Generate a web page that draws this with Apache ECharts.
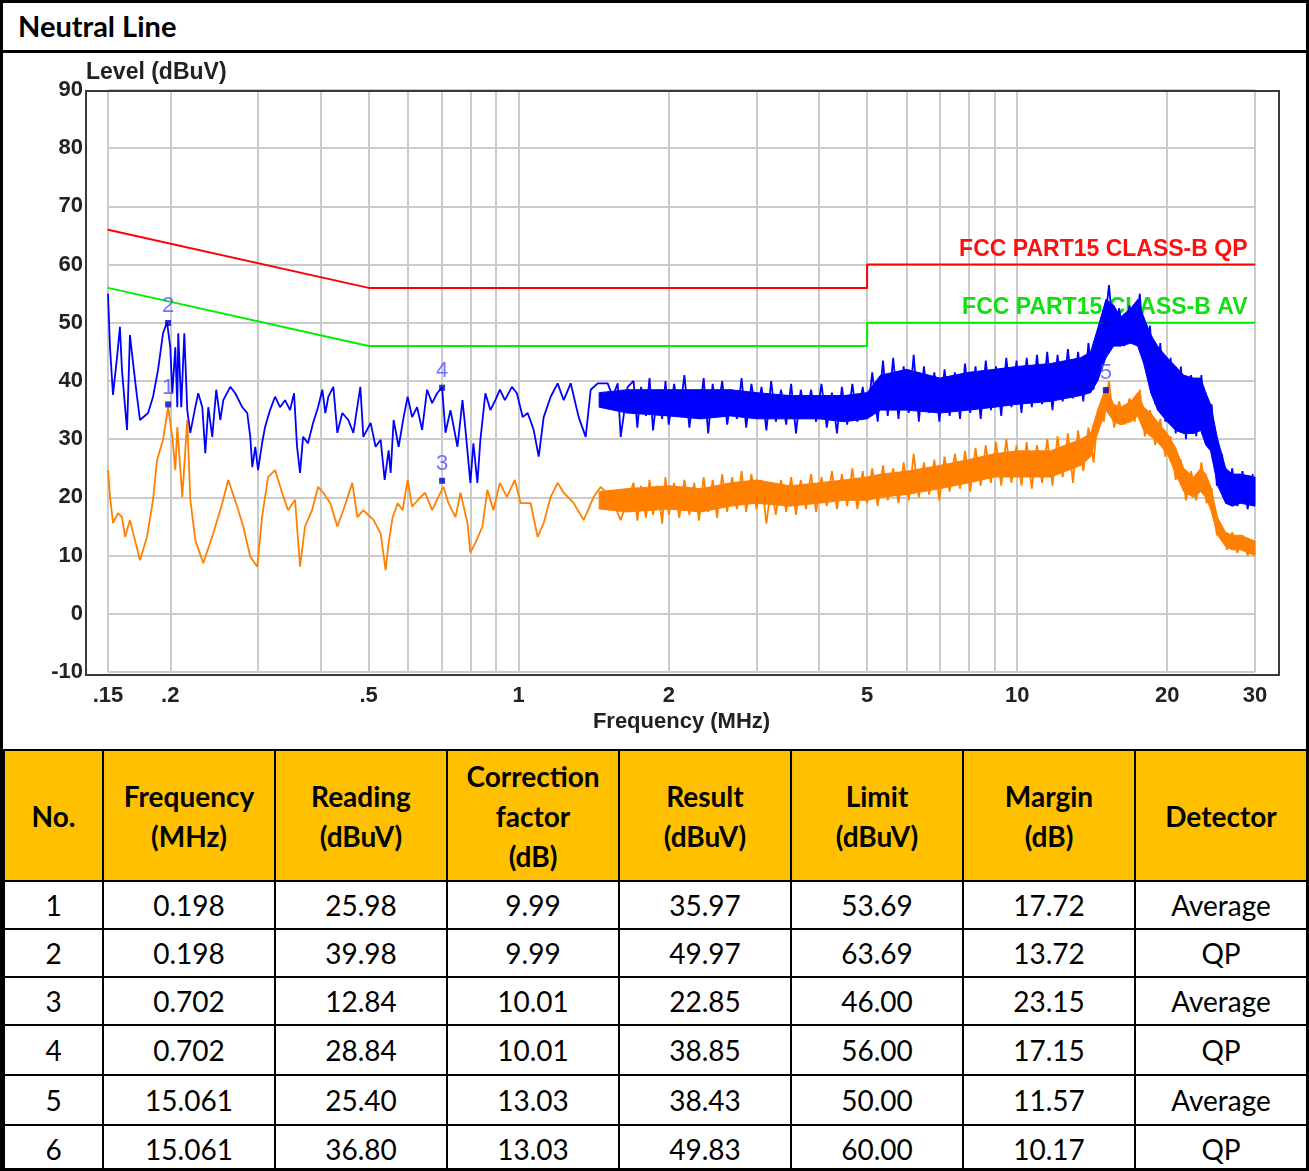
<!DOCTYPE html>
<html>
<head>
<meta charset="utf-8">
<title>Neutral Line</title>
<script src="https://cdn.jsdelivr.net/npm/echarts@6/dist/echarts.min.js"></script>
<style>
  html, body { margin: 0; padding: 0; background: #fff; }
  #page { position: relative; width: 1309px; height: 1171px; overflow: hidden; background: #fff; }
  #chart { position: absolute; left: 0; top: 0; width: 1309px; height: 1171px; }
  #title { position: absolute; left: 0; top: 0; width: 1309px; height: 53px; box-sizing: border-box; border-bottom: 3px solid #000; padding-left: 18px; font: bold 29px Lato, sans-serif; line-height: 52px; color: #000; background: #fff; }
  #result { position: absolute; left: 3px; top: 749px; width: 1303px; border-collapse: collapse; table-layout: fixed; font-family: Lato, sans-serif; color: #000; background: #fff; }
  #result th, #result td { border: 2px solid #000; text-align: center; padding: 0; }
  #result th { background: #ffc000; font-weight: bold; font-size: 28px; line-height: 40px; }
  #result td { font-size: 28px; }
  #frame { position: absolute; left: 0; top: 0; width: 1309px; height: 1171px; box-sizing: border-box; border: 3px solid #000; pointer-events: none; }
</style>
</head>
<body>
<div id="page">
  <div id="chart"></div>
  <div id="title">Neutral Line</div>
  <table id="result">
    <colgroup>
      <col style="width:99px"><col style="width:172px"><col style="width:172px"><col style="width:172px">
      <col style="width:172px"><col style="width:172px"><col style="width:172px"><col style="width:172px">
    </colgroup>
    <thead>
      <tr style="height:131px">
        <th>No.</th>
        <th>Frequency<br>(MHz)</th>
        <th>Reading<br>(dBuV)</th>
        <th>Correction<br>factor<br>(dB)</th>
        <th>Result<br>(dBuV)</th>
        <th>Limit<br>(dBuV)</th>
        <th>Margin<br>(dB)</th>
        <th>Detector</th>
      </tr>
    </thead>
    <tbody id="rows"></tbody>
  </table>
  <div id="frame"></div>
</div>
<script>
// ---- limit lines (FCC Part 15 class B) ----
const limitFreq = [0.15, 0.5, 5, 5, 30];
const qpLimitVal = [66, 56, 56, 60, 60];
const avLimitVal = [56, 46, 46, 50, 50];

// ---- measured results table ----
const noList = [1, 2, 3, 4, 5, 6];
const freqList = [0.198, 0.198, 0.702, 0.702, 15.061, 15.061];
const readingList = [25.98, 39.98, 12.84, 28.84, 25.40, 36.80];
const corrList = [9.99, 9.99, 10.01, 10.01, 13.03, 13.03];
const resultList = [35.97, 49.97, 22.85, 38.85, 38.43, 49.83];
const limitList = [53.69, 63.69, 46.00, 56.00, 50.00, 60.00];
const marginList = [17.72, 13.72, 23.15, 17.15, 11.57, 10.17];
const detectorList = ['Average', 'QP', 'Average', 'QP', 'Average', 'QP'];

// ---- axis ticks ----
const gridFreq = [0.15, 0.2, 0.3, 0.4, 0.5, 0.6, 0.7, 0.8, 0.9, 1, 2, 3, 4, 5, 6, 7, 8, 9, 10, 20, 30];
const labelFreq = [0.15, 0.2, 0.5, 1, 2, 5, 10, 20, 30];

// ---- QP trace (blue), low band, read point by point ----
const blueLeftFreq = [0.15,0.1514,0.1535,0.1564,0.1585,0.160,0.1623,0.1638,0.166,0.1684,
  0.1715,0.1739,0.1805,0.1847,0.189,0.1934,0.197,0.2,0.2019,0.2047,
  0.2066,0.2075,0.2104,0.2134,0.2163,0.2194,0.2245,0.2276,0.2319,0.2351,
  0.2384,0.2428,0.2473,0.252,0.2555,0.2639,0.27,0.2789,0.2854,0.2894,
  0.2921,0.2962,0.3,0.3056,0.3099,0.3171,0.3245,0.3321,0.3398,0.3478,
  0.3543,0.3592,0.3642,0.3693,0.3779,0.3868,0.3958,0.4037,0.4094,0.4151,
  0.4248,0.4327,0.4428,0.4552,0.4659,0.4812,0.4879,0.5046,0.5164,0.5285,
  0.5384,0.5484,0.5535,0.5612,0.5743,0.5877,0.5987,0.6112,0.6255,0.6401,
  0.655,0.6704,0.686,0.702,0.713,0.7297,0.7537,0.7713,0.7821,0.8,
  0.8112,0.8263,0.8378,0.8574,0.8774,0.8979,0.9168,0.9382,0.969,0.9917,
  1.0186,1.0425,1.0717,1.0968,1.1224,1.1593,1.1973,1.2311,1.2715,1.3193,
  1.3627,1.3946,1.4404,1.5085,1.5437,1.5798,1.6018,1.6545];
const blueLeftVal = [55,45.8,37.6,44.1,49.3,41.9,35.5,31.6,47.9,43.1,
  37.3,33.3,34.5,37.3,41.9,48.2,50.1,45.8,37.9,45.8,
  35.5,48.2,35.5,48.2,35.0,31.1,35.5,37.9,35.5,27.6,
  35.5,30.4,38.5,33.3,36.7,39.0,37.9,35.5,34.5,30.4,
  25.2,28.7,24.7,29.3,32.1,35.0,37.3,35.5,36.7,35.0,
  37.9,28.7,24.2,30.4,29.3,32.8,35.5,38.5,34.5,37.3,
  39.0,31.1,34.5,33.3,31.1,39.0,30.4,32.8,28.7,29.9,
  23.0,28.1,24.2,33.3,28.7,33.8,37.3,33.8,35.5,31.6,
  38.5,36.2,37.9,38.9,31.1,35.0,28.7,36.7,31.6,22.5,
  29.3,22.5,29.9,37.9,35.0,36.7,38.5,36.7,39.0,37.9,
  33.8,34.5,31.6,27.0,33.8,37.3,39.6,36.7,39.6,33.8,
  30.4,38.5,39.6,39.6,37.3,39.6,30.4,39.0];

// ---- AV trace (orange), low band ----
const orangeLeftFreq = [0.15,0.1514,0.1535,0.1571,0.160,0.1623,0.166,0.1739,0.1796,0.1847,
  0.1881,0.1934,0.198,0.2019,0.2047,0.2066,0.2114,0.2163,0.2194,0.2245,
  0.2329,0.2439,0.2543,0.2614,0.2725,0.2802,0.2894,0.2989,0.3056,0.3142,
  0.3245,0.3352,0.3446,0.3559,0.3642,0.3727,0.385,0.3958,0.4056,0.4189,
  0.4327,0.4448,0.4637,0.4746,0.4879,0.5117,0.5285,0.5408,0.5484,0.5586,
  0.5717,0.585,0.5987,0.6112,0.6284,0.649,0.6704,0.69,0.7065,0.723,
  0.7468,0.7642,0.7893,0.8,0.8187,0.8456,0.8654,0.8896,0.9168,0.9469,
  0.9825,1.009,1.057,1.0917,1.1224,1.1593,1.1973,1.2311,1.2893,1.3502,
  1.414,1.4605,1.5296,1.6018,1.6545];
const orangeLeftVal = [24.7,20.1,15.6,17.3,16.6,13.2,16.1,9.2,13.2,19.6,
  26.4,29.9,35.5,30.4,24.7,32.1,20.1,33.3,19.6,12.7,
  8.7,13.8,19.0,23.0,18.4,15.0,9.8,8.1,16.6,23.5,
  24.7,20.8,17.8,19.6,8.1,15.0,17.8,21.8,20.8,19.0,
  15.0,17.8,22.5,16.6,17.8,16.1,13.8,7.5,12.2,16.6,
  19.0,17.8,23.0,18.4,19.6,20.8,17.8,20.1,21.8,19.0,
  16.6,20.8,15.6,10.5,12.2,15.0,21.3,17.8,22.5,20.1,
  23.0,19.0,19.0,13.2,15.6,20.1,22.5,20.8,19.0,16.1,
  20.1,21.8,20.1,16.1,19.6];

// ---- high band: spike peaks / dips of both traces ----
const denseFreq = [1.7,1.73,1.76,1.8,1.83,1.86,1.9,1.94,1.97,2.0,
  2.05,2.1,2.15,2.2,2.25,2.3,2.35,2.4,2.45,2.5,
  2.56,2.62,2.68,2.74,2.8,2.86,2.93,3.0,3.07,3.14,
  3.21,3.28,3.36,3.44,3.52,3.6,3.68,3.77,3.86,3.95,
  4.05,4.15,4.25,4.35,4.45,4.56,4.67,4.78,4.9,5.0,
  5.12,5.25,5.38,5.5,5.64,5.78,5.92,6.06,6.2,6.35,
  6.5,6.66,6.82,6.98,7.15,7.32,7.5,7.68,7.86,8.05,
  8.25,8.45,8.65,8.86,9.07,9.29,9.51,9.74,9.97,10.2,
  10.45,10.7,10.96,11.22,11.49,11.77,12.05,12.34,12.64,12.94,
  13.25,13.57,13.9,14.23,14.57,14.92,15.28,15.65,16.02,16.41,
  16.8,17.2,17.62,18.04,18.47,18.92,19.37,19.83,20.31,20.8,
  21.3,21.81,22.33,22.87,23.42,23.98,24.56,25.15,25.75,26.37,
  27.0,27.65,28.32,29.0,29.7];
const blueDenseVal = [40,32,39,34,40.5,31.5,38.5,33.5,40,32.5,
  39.5,34,41,32,38.5,33.5,40.5,31,39.5,34,
  40,32.5,38.5,33.5,40.5,32,39.5,34,39,31.5,
  40,33,38.5,32.5,39.5,31,38.5,33.5,38.5,33,
  39.5,32,38,31,39,32.5,39.5,33,39,33.5,
  41.5,33,43.5,34,44,33.5,42.5,34.5,44.5,33,
  42.5,34.5,41.5,33,42,34,41.5,33.5,43,34.5,
  42.5,33.5,43.5,35,42.5,34,44,35.5,43.5,34.5,
  44,35.5,44.5,36,45,35,44.5,36.5,45.5,37,
  45,36.5,46.5,38.5,49,48,56.5,46.5,52.5,46,
  53,47,55,43,49.5,36,46.5,33,44,31,
  42.5,30,41,30.5,41,29,36,22,27.5,19,
  25,18.5,24.5,18,24];
const orangeDenseVal = [22.5,16,22,16.5,23,17,22,15.5,23.5,17,
  22.5,16.5,23,17,22.5,16,23.5,17.5,23,16.5,
  24,17.5,23.5,18,24.5,17.5,24,18,23,15.5,
  22,17,23,17.5,23.5,17,23,18,24,17.5,
  23.5,18.5,24.5,18,24,18.5,25,18,24.5,19,
  25,18.5,25.5,19.5,25,19,26,19.5,27.5,20,
  26,20.5,26.5,19.5,27,21,27.5,21.5,28,21,
  28.5,22,29,22.5,29.5,22,30,22.5,29,22,
  29.5,21.5,29,22.5,30,22,30.5,23.5,31,22.5,
  31.5,24.5,32,26,35.5,33,40,32,36.5,32.5,
  37,33,38.5,30.5,35,29,33.5,27,30.5,23,
  26.5,19.5,24.5,19.5,26,19,21.5,13.5,15,11,
  14,10.5,13.5,10,12.5];

// ---- high band: solid core of the noise band (low / high edge) ----
const bandFreq = [1.45,1.65,2.0,2.32,2.66,3.0,3.5,4.0,
  4.5,5.0,5.32,6.0,7.0,8.0,9.0,10,11.67,13.41,
  14.04,14.5,15.07,15.62,16.13,16.9,17.45,17.94,18.53,19.13,
  20,20.8,21.58,22.6,23.35,23.9,24.43,25.25,26.2,27,
  28.06,30];
const blueBandLo = [35.5,34.5,34,33.5,34,33.5,33.5,33.5,
  33,33.5,35,35,34.5,35,35.5,36,36.5,37.5,
  38,40,44,46,46,46.5,46,43,38,35,
  33,31.5,31,31,31.5,29,28,22,19,18.5,
  19,18.5];
const blueBandHi = [38,38.5,38.5,38.5,38.5,38,37.5,37.5,
  37.5,38,41,42,40.5,41.5,42,42.5,43,44,
  45,49,54,53,51,52.5,54,51,48,46,
  44,42.5,41,40.5,40.5,38,36,30,25,24,
  24,23.5];
const orangeBandLo = [18,17.5,18,17.5,18.5,19,18.5,19,
  19.5,19.5,20,20.5,21.5,22.5,23.5,23.5,23.5,25.5,
  27,31,35,33,32.5,33,34,31.5,30.5,29.5,
  27.5,24,21,20,21,20,18,13.5,11.5,11,
  11,10];
const orangeBandHi = [21,21.5,22,21.5,22.5,23,22,22.5,
  23,23.5,24,24.5,25.5,26.5,27.5,28,28,30,
  31,35,39,36,35.5,36.5,38,35.5,34.5,33,
  31,28.5,25,23.5,25,24,22,16.5,14,13.5,
  13.5,12.5];

// ---- table ----
const tbody = document.getElementById('rows');
const rowHeights = [48, 48, 48, 50, 50, 48];
noList.forEach((no, i) => {
  const tr = document.createElement('tr');
  tr.style.height = rowHeights[i] + 'px';
  [String(no), freqList[i].toFixed(3), readingList[i].toFixed(2), corrList[i].toFixed(2),
   resultList[i].toFixed(2), limitList[i].toFixed(2), marginList[i].toFixed(2), detectorList[i]]
    .forEach(txt => {
      const td = document.createElement('td');
      td.textContent = txt;
      tr.appendChild(td);
    });
  tbody.appendChild(tr);
});

// ---- chart ----
const axisFont = '"Liberation Sans", Arial, sans-serif';
const textColor = '#222';
const gridColor = '#cbcbcb';

function pairs(fs, vs) { return fs.map((f, i) => [f, vs[i]]); }
function bandRows(lo, hi) { return bandFreq.map((f, i) => [f, lo[i], hi[i]]); }
function bandRender(color) {
  return function (params, api) {
    const i = params.dataIndexInside;
    if (i >= bandFreq.length - 1) return null;
    const a = api.coord([api.value(0, i), api.value(2, i)]);
    const b = api.coord([api.value(0, i + 1), api.value(2, i + 1)]);
    const c = api.coord([api.value(0, i + 1), api.value(1, i + 1)]);
    const d = api.coord([api.value(0, i), api.value(1, i)]);
    return {
      type: 'polygon',
      shape: { points: [a, b, c, d] },
      style: { fill: color, stroke: color, lineWidth: 1 }
    };
  };
}
function limitData(vals, text, color) {
  const data = pairs(limitFreq, vals);
  const last = data.length - 1;
  data[last] = {
    value: data[last],
    label: {
      show: true, formatter: text, position: 'left', distance: 7, offset: [0, -15],
      color: color, fontSize: 23, fontWeight: 'bold', fontFamily: axisFont
    }
  };
  return data;
}
function fmtFreq(v) {
  const n = +(+v).toPrecision(3);
  return n < 1 ? String(n).slice(1) : String(n);
}

const chart = echarts.init(document.getElementById('chart'));
chart.setOption({
  animation: false,
  backgroundColor: '#fff',
  title: {
    text: 'Level (dBuV)', left: 86, top: 61, padding: 0,
    textStyle: { fontSize: 23, fontWeight: 'bold', color: textColor, fontFamily: axisFont }
  },
  grid: { left: 108, right: 54, top: 90, bottom: 499 },
  graphic: [{
    type: 'rect', z: 100, silent: true,
    shape: { x: 86, y: 91, width: 1193, height: 584 },
    style: { fill: null, stroke: '#3a3a3a', lineWidth: 2 }
  }],
  xAxis: {
    type: 'log', logBase: 10, min: 0.15, max: 30,
    axisLine: { show: false },
    axisTick: { show: false, customValues: gridFreq },
    axisLabel: {
      customValues: labelFreq, formatter: fmtFreq, margin: 13,
      fontSize: 22, fontWeight: 'bold', color: textColor, fontFamily: axisFont
    },
    splitLine: { show: true, lineStyle: { color: gridColor, width: 2 } },
    name: 'Frequency (MHz)', nameLocation: 'middle', nameGap: 39,
    nameTextStyle: { fontSize: 22, fontWeight: 'bold', color: textColor, fontFamily: axisFont }
  },
  yAxis: {
    type: 'value', min: -10, max: 90, interval: 10,
    axisLine: { show: false },
    axisTick: { show: false },
    axisLabel: { margin: 25, fontSize: 22, fontWeight: 'bold', color: textColor, fontFamily: axisFont },
    splitLine: { show: true, lineStyle: { color: gridColor, width: 2 } }
  },
  series: [
    {
      name: 'QP limit', type: 'line', z: 2, silent: true,
      symbol: 'circle', symbolSize: 1, showSymbol: true,
      itemStyle: { color: '#ff0000' },
      lineStyle: { color: '#ff0000', width: 2 },
      data: limitData(qpLimitVal, 'FCC PART15 CLASS-B QP', '#ff1010')
    },
    {
      name: 'AV limit', type: 'line', z: 2, silent: true,
      symbol: 'circle', symbolSize: 1, showSymbol: true,
      itemStyle: { color: '#00ee00' },
      lineStyle: { color: '#00ee00', width: 2 },
      data: limitData(avLimitVal, 'FCC PART15 CLASS-B AV', '#10e010')
    },
    {
      name: 'QP band', type: 'custom', z: 3, silent: true,
      encode: { x: 0, y: [1, 2] },
      renderItem: bandRender('#0000ff'),
      data: bandRows(blueBandLo, blueBandHi)
    },
    {
      name: 'QP', type: 'line', z: 3, silent: true, symbol: 'none',
      lineStyle: { color: '#0000ff', width: 1.8 },
      data: pairs(blueLeftFreq, blueLeftVal).concat(pairs(denseFreq, blueDenseVal))
    },
    {
      name: 'AV band', type: 'custom', z: 4, silent: true,
      encode: { x: 0, y: [1, 2] },
      renderItem: bandRender('#ff8000'),
      data: bandRows(orangeBandLo, orangeBandHi)
    },
    {
      name: 'AV', type: 'line', z: 4, silent: true, symbol: 'none',
      lineStyle: { color: '#ff8000', width: 1.8 },
      data: pairs(orangeLeftFreq, orangeLeftVal).concat(pairs(denseFreq, orangeDenseVal))
    },
    {
      name: 'markers', type: 'scatter', z: 5, silent: true,
      symbol: 'rect', symbolSize: 6,
      itemStyle: { color: '#0000c0' },
      label: {
        show: true, position: 'top', distance: 3,
        color: '#5050ff', fontSize: 22, fontFamily: axisFont,
        formatter: p => String(noList[p.dataIndex])
      },
      data: freqList.map((f, i) => i === 5
        ? { value: [f, resultList[i]], label: { show: false } }
        : [f, resultList[i]])
    }
  ]
});
</script>
</body>
</html>
